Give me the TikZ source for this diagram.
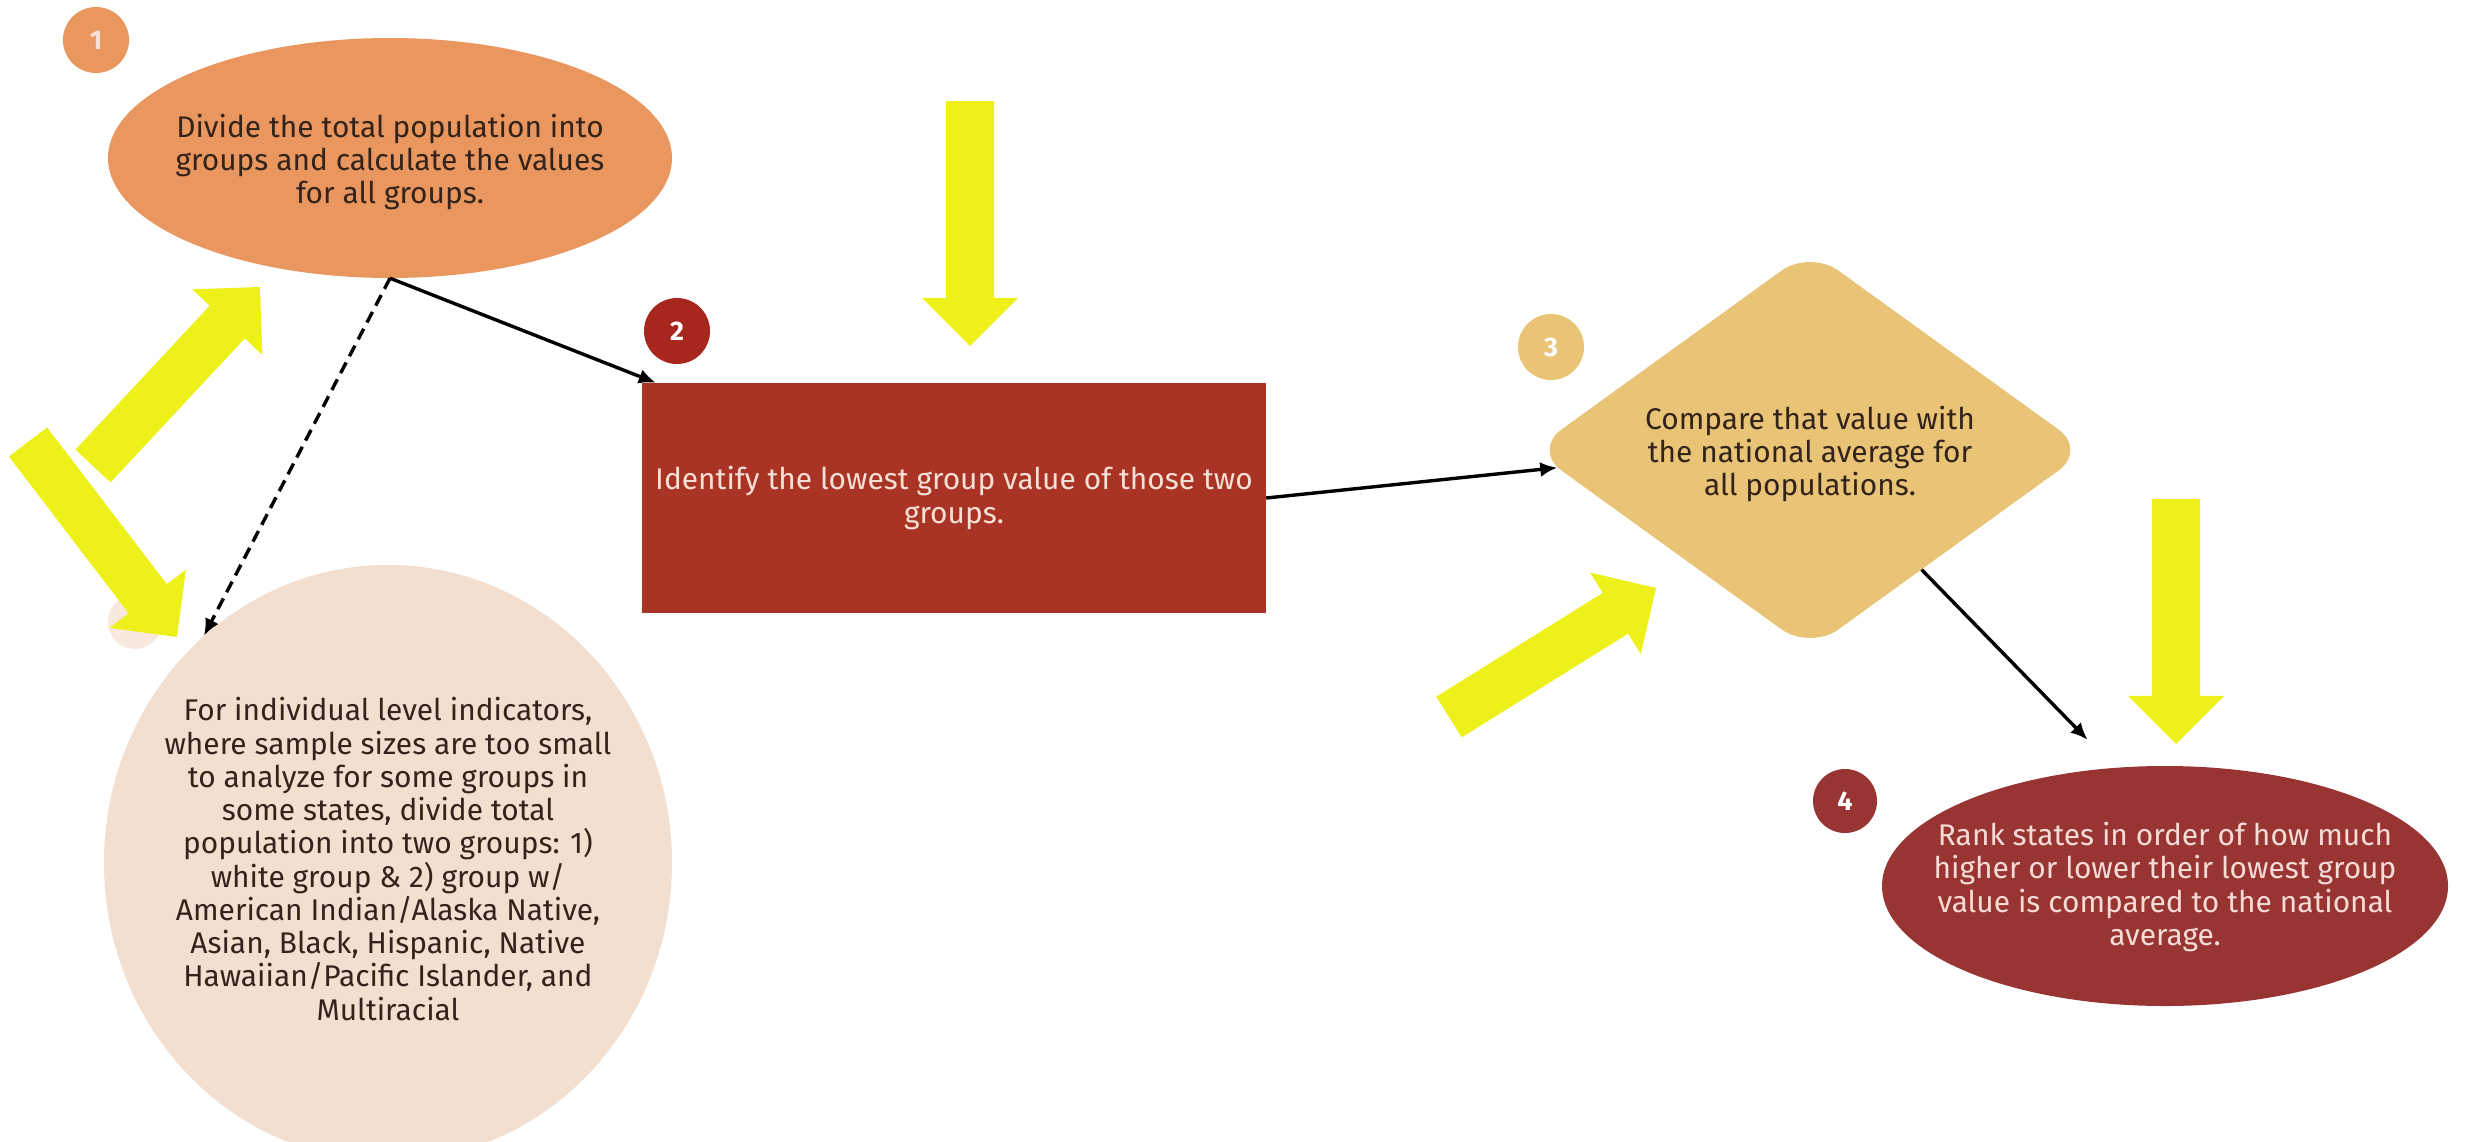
\documentclass[tikz,border=0pt]{standalone}
\usepackage{fontspec}
\setmainfont{Fira Sans}
\usetikzlibrary{shapes.geometric,calc,arrows.meta}
\definecolor{orangeA}{HTML}{E9975F}
\definecolor{redA}{HTML}{A93324}
\definecolor{redB}{HTML}{A7271F}
\definecolor{goldA}{HTML}{E9C477}
\definecolor{wineA}{HTML}{983432}
\definecolor{paleA}{HTML}{F3DFD0}
\definecolor{faintA}{HTML}{F8E8DD}
\definecolor{yel}{HTML}{EEF019}
\definecolor{darkT}{HTML}{33231A}
\definecolor{lightT}{HTML}{F5E1D6}
\definecolor{pinkT}{HTML}{F6DCD6}
\newcommand\yarrow[2]{%
  \path ($(#1)!0.804!(#2)$) coordinate (ys);
  \fill[yel] ($(#1)!24bp!90:(#2)$) -- ($(ys)!24bp!90:(#2)$) -- ($(ys)!48bp!90:(#2)$) -- (#2)
    -- ($(ys)!48bp!-90:(#2)$) -- ($(ys)!24bp!-90:(#2)$) -- ($(#1)!24bp!-90:(#2)$) -- cycle;}
\begin{document}
\begin{tikzpicture}[x=1bp,y=-1bp,
  shapebox/.style={inner sep=0pt, draw=none},
  txt/.style={align=center, inner sep=0pt, font=\fontsize{30}{33.4}\selectfont},
  badge/.style={circle, inner sep=0pt, minimum size=66bp, font=\fontsize{27}{30}\selectfont\bfseries},
  conn/.style={line width=3.4bp, draw=black, -{Latex[length=17bp,width=15bp]}},
  dconn/.style={conn, dash pattern=on 12bp off 7bp}]
\useasboundingbox (0,0) rectangle (2465,1141);
\clip (0,0) rectangle (2465,1141);
\fill[white] (0,0) rectangle (2465,1141);

% shapes
\node[shapebox, ellipse, fill=orangeA, minimum width=564bp, minimum height=240bp] (e1) at (390,158) {};
\node[shapebox, rectangle, fill=redA, minimum width=624bp, minimum height=230bp] (r2) at (954,498) {};
\node[shapebox, diamond, fill=goldA, rounded corners=35bp, minimum width=554bp, minimum height=400bp] (d3) at (1810,450) {};
\node[shapebox, ellipse, fill=wineA, minimum width=566bp, minimum height=240bp] (e4) at (2165,886) {};
\node[shapebox, ellipse, fill=paleA, minimum width=568bp, minimum height=596bp] (e5) at (388,863) {};

% badges
\node[badge, fill=orangeA, text=lightT] (b1) at (96,40) {1};
\node[badge, fill=redB, text=white] (b2) at (677,331) {2};
\node[badge, fill=goldA, text=white] (b3) at (1551,347) {3};
\node[badge, fill=wineA, text=white, minimum size=64bp] (b4) at (1845,801) {4};
\node[circle, inner sep=0pt, minimum size=54bp, fill=faintA] (b5) at (135,622) {};

% texts
\node[txt, text=darkT] (t1) at (390,162) {Divide the total population into\\groups and calculate the values\\for all groups.};
\node[txt, text=lightT] (t2) at (954,498) {Identify the lowest group value of those two\\groups.};
\node[txt, text=darkT] (t3) at (1810,454) {Compare that value with\\the national average for\\all populations.};
\node[txt, text=pinkT] (t4) at (2165,887) {Rank states in order of how much\\higher or lower their lowest group\\value is compared to the national\\average.};
\node[txt, text=darkT] (t5) at (388,859) {For individual level indicators,\\where sample sizes are too small\\to analyze for some groups in\\some states, divide total\\population into two groups: 1)\\white group \& 2) group w/\\American Indian/Alaska Native,\\Asian, Black, Hispanic, Native\\Hawaiian/Pacific Islander, and\\Multiracial};

% connectors
\draw[conn] (e1.south) -- ([xshift=14bp]r2.north west);
\draw[dconn] (e1.south) -- (e5.129.5);
\draw[conn] (r2.east) -- (d3.184.3);
\draw[conn, shorten >=39bp] (d3.313.8) -- (e4.113);

% yellow block arrows
\coordinate (ya1) at (970,101);  \coordinate (yb1) at (970,346);
\coordinate (ya2) at (2176,499); \coordinate (yb2) at (2176,744);
\coordinate (ya3) at (93,466);   \coordinate (yb3) at (260,287);
\coordinate (ya4) at (28,442);   \coordinate (yb4) at (177,637);
\coordinate (ya5) at (1449,717); \coordinate (yb5) at (1656,588);
\yarrow{ya1}{yb1}
\yarrow{ya2}{yb2}
\yarrow{ya3}{yb3}
\yarrow{ya4}{yb4}
\yarrow{ya5}{yb5}
\end{tikzpicture}
\end{document}
